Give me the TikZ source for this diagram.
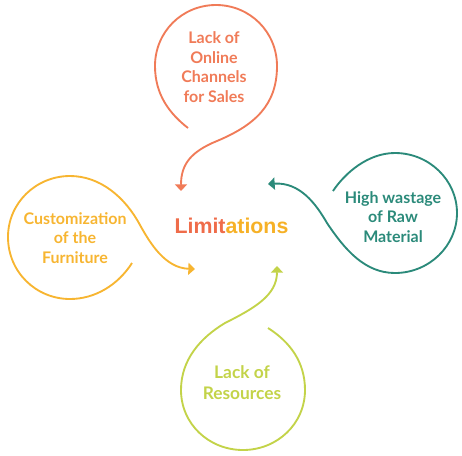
\documentclass[tikz,border=0pt]{standalone}
\usepackage{fontspec}
\setmainfont{Lato}
\newfontfamily\titlefont{Liberation Sans}
\usetikzlibrary{arrows.meta}
\definecolor{salmon}{HTML}{F07B58}
\definecolor{tealish}{HTML}{2B8A7A}
\definecolor{amber}{HTML}{F7B531}
\definecolor{lime}{HTML}{C3D349}
\definecolor{limred}{HTML}{EF6C4A}
\definecolor{limyel}{HTML}{F6B127}
\tikzset{%
    loop label/.style={
      align=center,
      inner sep=0pt,
      font=\bfseries\fontsize{12}{14.8}\selectfont
    },
    loop line/.style={
      line width=1.4pt,
      -{Triangle[width=9pt,length=5pt]}
    }
  }
\begin{document}
\begin{tikzpicture}[x=0.75pt, y=-0.75pt]
      \useasboundingbox (0,0) rectangle (462,455);

      \node [inner sep=0pt, font=\titlefont\bfseries\fontsize{16}{19}\selectfont] (limit) at (231.5,226)
        {\textcolor{limred}{Limit}\textcolor{limyel}{ations}};

      \node [loop label, text=salmon] (online) at (214,67) {Lack of\\Online\\Channels\\for Sales};
      \node [loop label, text=tealish] (waste) at (393,217) {High wastage\\of Raw\\Material};
      \node [loop label, text=amber] (custom) at (75,238) {Customization\\of the\\Furniture};
      \node [loop label, text=lime, font=\bfseries\fontsize{13}{15.8}\selectfont] (res) at (242,382.5) {Lack of\\Resources};

      \coordinate (online start) at (188,128);
      \coordinate (online tip) at (181,191);
      \coordinate (waste start) at (333,191);
      \coordinate (waste tip) at (268,184);
      \coordinate (custom start) at (132,263);
      \coordinate (custom tip) at (195,269);
      \coordinate (res start) at (268,328);
      \coordinate (res tip) at (277,266);

      % top loop
      \draw [loop line, salmon] (online start) .. controls (170,114) and (155,95) .. (155,66)
        .. controls (155,32) and (182,5) .. (216,5)
        .. controls (250,5) and (277,32) .. (277,66)
        .. controls (277,105) and (255,125) .. (217,141)
        .. controls (190,152) and (181,165) .. (online tip);

      % right loop
      \draw [loop line, tealish] (waste start) .. controls (345,173) and (368,153) .. (395,153)
        .. controls (429,153) and (457,180) .. (457,213)
        .. controls (457,246) and (429,273) .. (395,273)
        .. controls (365,273) and (345,250) .. (327,223)
        .. controls (316,204) and (300,182) .. (waste tip);

      % left loop
      \draw [loop line, amber] (custom start) .. controls (118,285) and (95,299) .. (70,299)
        .. controls (36,299) and (8,272) .. (8,237)
        .. controls (8,203) and (36,176) .. (70,176)
        .. controls (100,176) and (125,197) .. (140,225)
        .. controls (150,243) and (165,268) .. (custom tip);

      % bottom loop
      \draw [loop line, lime] (res start) .. controls (290,342) and (305,362) .. (305,390)
        .. controls (305,424) and (277,450) .. (243,450)
        .. controls (209,450) and (181,424) .. (181,390)
        .. controls (181,360) and (200,338) .. (225,323)
        .. controls (255,308) and (277,295) .. (res tip);
\end{tikzpicture}
\end{document}
